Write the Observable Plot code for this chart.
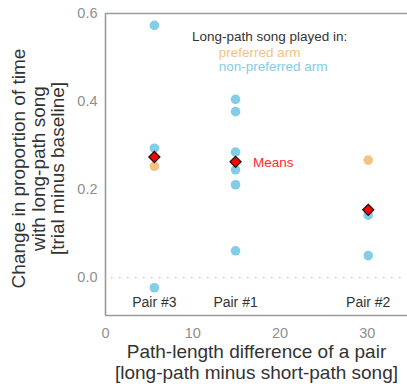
<!DOCTYPE html>
<html>
<head>
<meta charset="utf-8">
<script src="https://cdn.jsdelivr.net/npm/d3@7"></script>
<script src="https://cdn.jsdelivr.net/npm/@observablehq/plot@0.6"></script>
<style>
  html, body { margin: 0; padding: 0; background: #fff; }
  #chart { width: 407px; height: 387px; }
</style>
</head>
<body>
<div id="chart"></div>
<script>
// ---- data ----
const pairNames = ["Pair #3", "Pair #1", "Pair #2"];
const pairDiff = [5.6, 14.9, 30.1];
const preferredArm = [[0.253], [], [0.267]];
const nonPreferredArm = [
  [0.573, 0.294, -0.023],
  [0.405, 0.377, 0.285, 0.245, 0.211, 0.061],
  [0.142, 0.050]
];
const pairMeans = [0.274, 0.263, 0.154];
const xTicks = [0, 10, 20, 30];
const yTicks = [0, 0.2, 0.4, 0.6];

const xLabel = "Path-length difference of a pair\n[long-path minus short-path song]";
const yLabel = "Change in proportion of time\nwith long-path song\n[trial minus baseline]";
const legendTitle = "Long-path song played in:";
const legendPreferred = "preferred arm";
const legendNonPreferred = "non-preferred arm";
const meansLabel = "Means";

// ---- tables built from the arrays ----
const points = [];
pairNames.forEach((p, i) => {
  preferredArm[i].forEach(v => points.push({pair: p, x: pairDiff[i], y: v, arm: "preferred"}));
  nonPreferredArm[i].forEach(v => points.push({pair: p, x: pairDiff[i], y: v, arm: "non-preferred"}));
});
const means = pairNames.map((p, i) => ({pair: p, x: pairDiff[i], y: pairMeans[i]}));
const labels = pairNames.map((p, i) => ({pair: p, x: pairDiff[i]}));

const BLUE = "#84cde6";
const ORANGE = "#f5c282";
const xDomain = [0, 34.6];
const yDomain = [-0.086, 0.6];

const chart = Plot.plot({
  width: 407,
  height: 387,
  marginLeft: 105,
  marginRight: 0,
  marginTop: 13,
  marginBottom: 72,
  style: {fontFamily: "'Liberation Sans', Arial, Helvetica, sans-serif", fontSize: "12px", background: "#fff"},
  x: {domain: xDomain, ticks: xTicks, label: null},
  y: {domain: yDomain, ticks: yTicks, label: null},
  marks: [
    Plot.ruleY([0], {stroke: "#c4c4c4", strokeWidth: 1.3, strokeDasharray: "1.5,6.5", insetLeft: 6}),
    Plot.ruleX([xDomain[0]], {stroke: "#9a9a9a", strokeWidth: 1.6}),
    Plot.ruleY([yDomain[0], yDomain[1]], {stroke: "#9a9a9a", strokeWidth: 1.6}),
    Plot.axisX({ticks: xTicks, tickSize: 0, tickPadding: 12, fill: "#8f8f8f", fontSize: 14.5, label: null}),
    Plot.axisY({ticks: yTicks, tickSize: 0, tickPadding: 8, tickFormat: d3.format(".1f"), fill: "#8f8f8f", fontSize: 14.5, label: null}),
    Plot.dot(points.filter(d => d.arm === "non-preferred"), {x: "x", y: "y", r: 4.8, fill: BLUE, stroke: "none"}),
    Plot.dot(points.filter(d => d.arm === "preferred"), {x: "x", y: "y", r: 4.8, fill: ORANGE, stroke: "none"}),
    Plot.dot(means, {x: "x", y: "y", symbol: "diamond2", r: 5, fill: "#ff0000", stroke: "#111", strokeWidth: 1.2}),
    Plot.text(labels, {x: "x", frameAnchor: "bottom", dy: -9, text: "pair", fill: "#333", fontSize: 14}),
    Plot.text([meansLabel], {x: 16.9, y: 0.2615, text: d => d, textAnchor: "start", fill: "#ff2a2a", fontSize: 13.5}),
    Plot.text([legendTitle], {x: 18.8, y: 0.548, text: d => d, textAnchor: "middle", fill: "#333", fontSize: 13.5}),
    Plot.text([legendPreferred], {x: 12.97, y: 0.512, text: d => d, textAnchor: "start", fill: ORANGE, fontSize: 13.5}),
    Plot.text([legendNonPreferred], {x: 12.97, y: 0.480, text: d => d, textAnchor: "start", fill: BLUE, fontSize: 13.5}),
    Plot.text([xLabel], {frameAnchor: "bottom", dy: 28, textAnchor: "middle", lineAnchor: "top", lineHeight: 1.1, text: d => d, fill: "#333", fontSize: 19}),
    Plot.text([yLabel], {frameAnchor: "left", dx: -67, dy: 4, rotate: -90, textAnchor: "middle", lineAnchor: "middle", lineHeight: 1.02, text: d => d, fill: "#333", fontSize: 19})
  ]
});
document.getElementById("chart").appendChild(chart);
</script>
</body>
</html>
